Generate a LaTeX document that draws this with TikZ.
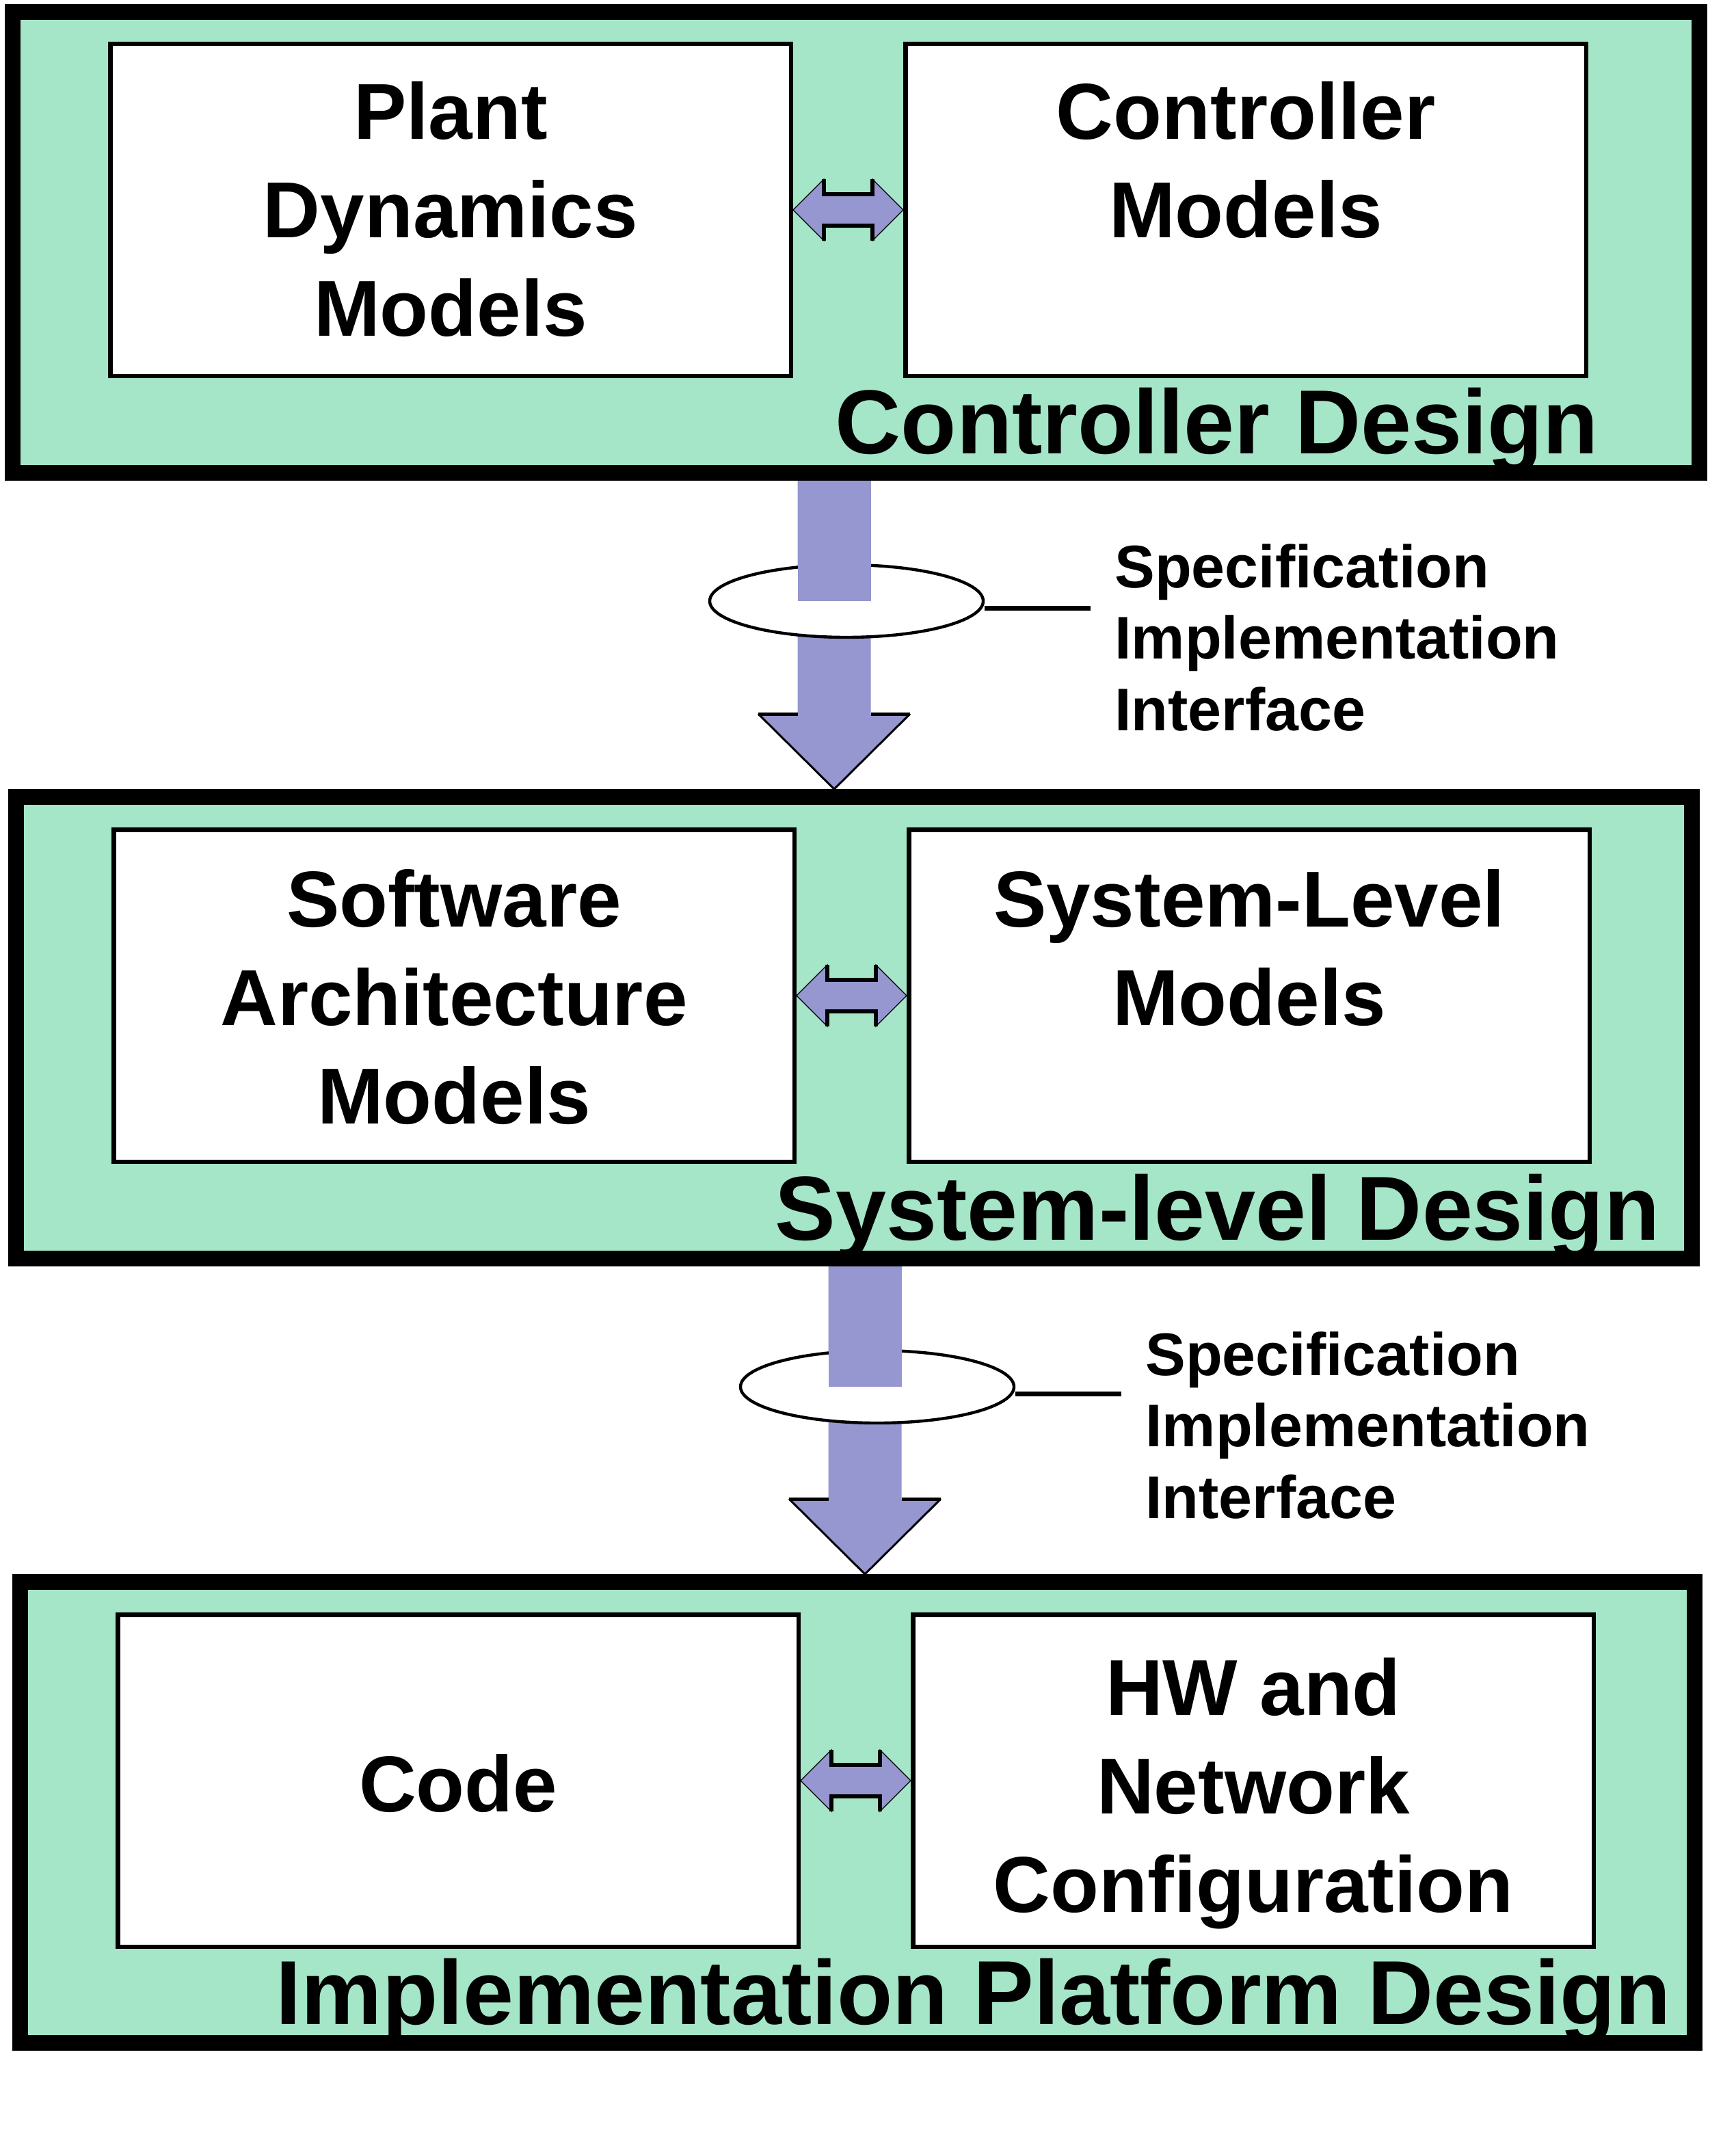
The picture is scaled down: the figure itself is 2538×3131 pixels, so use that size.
\documentclass[tikz,border=0pt]{standalone}
\usepackage{fontspec}
\setmainfont{Liberation Sans}
\usetikzlibrary{shapes.geometric,calc}
\definecolor{secgreen}{RGB}{165,229,200}
\definecolor{lav}{RGB}{150,150,208}
\tikzset{
  section/.style={draw=black, fill=secgreen, line width=11.5pt, anchor=north west, inner sep=0pt},
  model/.style={draw=black, fill=white, line width=3.25pt, anchor=north west, inner sep=0pt,
    minimum width=497.75pt, minimum height=242.75pt},
  modeltext/.style={anchor=base, align=center, inner sep=0pt, font=\fontsize{58pt}{72pt}\selectfont\bfseries},
  designlabel/.style={anchor=base east, inner sep=0pt, font=\fontsize{66.5pt}{80pt}\selectfont\bfseries},
  speclabel/.style={anchor=base west, align=left, inner sep=0pt, font=\fontsize{44pt}{52.25pt}\selectfont\bfseries},
  ring/.style={ellipse, draw=black, fill=white, line width=2.2pt, inner sep=0pt,
    minimum width=200pt, minimum height=53pt},
  tagline/.style={draw=black, line width=3.5pt},
}
\newcommand\dblarrow[2]{%
  \path[fill=lav, draw=black, line width=0.6pt, line join=miter]
    let \p1=(#1.east), \p2=(#2.west) in
    (\x1,\y1) -- (\x1+22.5pt,\y1+22.5pt) -- (\x1+22.5pt,\y1+11.5pt)
    -- (\x2-22.5pt,\y1+11.5pt) -- (\x2-22.5pt,\y1+22.5pt) -- (\x2,\y2)
    -- (\x2-22.5pt,\y1-22.5pt) -- (\x2-22.5pt,\y1-11.5pt)
    -- (\x1+22.5pt,\y1-11.5pt) -- (\x1+22.5pt,\y1-22.5pt) -- cycle;
  \draw[line width=3pt]
    let \p1=(#1.east), \p2=(#2.west) in
    (\x1+22.5pt,\y1+22.5pt) -- (\x1+22.5pt,\y1+11.5pt) -- (\x2-22.5pt,\y1+11.5pt) -- (\x2-22.5pt,\y1+22.5pt)
    (\x1+22.5pt,\y1-22.5pt) -- (\x1+22.5pt,\y1-11.5pt) -- (\x2-22.5pt,\y1-11.5pt) -- (\x2-22.5pt,\y1-22.5pt);
}
% #1 top coordinate, #2 tip coordinate
\newcommand\flowarrow[2]{%
  \path[fill=lav] let \p1=(#1), \p2=(#2) in
    (\x1-26.75pt,\y1) -- (\x1-26.75pt,\y2+55pt) -- (\x1-55.5pt,\y2+55pt) -- (\x2,\y2)
    -- (\x1+55.5pt,\y2+55pt) -- (\x1+26.75pt,\y2+55pt) -- (\x1+26.75pt,\y1) -- cycle;
  \draw[line width=1.5pt, line join=miter] let \p1=(#1), \p2=(#2) in
    (\x1-55.5pt,\y2+55pt) -- (\x2,\y2) -- (\x1+55.5pt,\y2+55pt);
  \draw[line width=2.5pt] let \p1=(#1), \p2=(#2) in
    (\x1-55.5pt,\y2+55pt) -- (\x1-26.75pt,\y2+55pt)
    (\x1+26.75pt,\y2+55pt) -- (\x1+55.5pt,\y2+55pt);
}
% #1 top coordinate, #2 ring node
\newcommand\shaftover[2]{%
  \fill[lav] let \p1=(#1), \p2=(#2.center) in
    (\x1-26.75pt,\y1) rectangle (\x1+26.75pt,\y2);
}
\begin{document}
\begin{tikzpicture}[x=0.5pt,y=-0.5pt]
\useasboundingbox (0,0) rectangle (2538,3131);
\fill[white] (0,0) rectangle (2538,3131);

% sections
\node[section, minimum width=1233.5pt, minimum height=337pt] (sec1) at (7,6) {};
\node[section, minimum width=1225.5pt, minimum height=337.5pt] (sec2) at (12,1154) {};
\node[section, minimum width=1224.5pt, minimum height=337pt] (sec3) at (18,2302) {};

% model boxes
\node[model] (pdm) at (158,61) {};
\node[model] (cm) at (1321,61) {};
\node[model] (sam) at (163,1210) {};
\node[model] (slm) at (1326,1210) {};
\node[model] (code) at (169,2358) {};
\node[model] (hwn) at (1332,2358) {};

% (base anchor = baseline of the last line)
\node[modeltext] (pdmt) at ($(pdm.north)+(0,430)$) {Plant\\Dynamics\\Models};
\node[modeltext] (cmt) at ($(cm.north)+(0,286)$) {Controller\\Models};
\node[modeltext] (samt) at ($(sam.north)+(0,433)$) {Software\\Architecture\\Models};
\node[modeltext] (slmt) at ($(slm.north)+(0,289)$) {System-Level\\Models};
\node[modeltext] (codet) at ($(code.north)+(0,291)$) {Code};
\node[modeltext] (hwnt) at ($(hwn.north)+(0,438)$) {HW and\\Network\\Configuration};

% section labels
\node[designlabel] (lab1) at (2338,663) {Controller Design};
\node[designlabel] (lab2) at (2428,1813) {System-level Design};
\node[designlabel] (lab3) at (2444,2960) {Implementation Platform Design};

% double arrows
\dblarrow{pdm}{cm}
\dblarrow{sam}{slm}
\dblarrow{code}{hwn}

% flow arrow 1
\coordinate (t1) at (1220,0 |- sec1.south);
\coordinate (h1) at (1220,0 |- sec2.north);
\flowarrow{t1}{h1}
\node[ring] (r1) at (1238,879) {};
\shaftover{t1}{r1}
\coordinate (c1a) at ($(r1.east)+(0,10)$);
\coordinate (c1b) at (1595,889);
\draw[tagline] (c1a) -- (c1b);
\node[speclabel] (spec1) at (1630,1068) {Specification\\Implementation\\Interface};

% flow arrow 2
\coordinate (t2) at (1265,0 |- sec2.south);
\coordinate (h2) at (1265,0 |- sec3.north);
\flowarrow{t2}{h2}
\node[ring] (r2) at (1283,2028) {};
\shaftover{t2}{r2}
\coordinate (c2a) at ($(r2.east)+(0,10)$);
\coordinate (c2b) at (1640,2038);
\draw[tagline] (c2a) -- (c2b);
\node[speclabel] (spec2) at (1675,2220) {Specification\\Implementation\\Interface};
\end{tikzpicture}
\end{document}
